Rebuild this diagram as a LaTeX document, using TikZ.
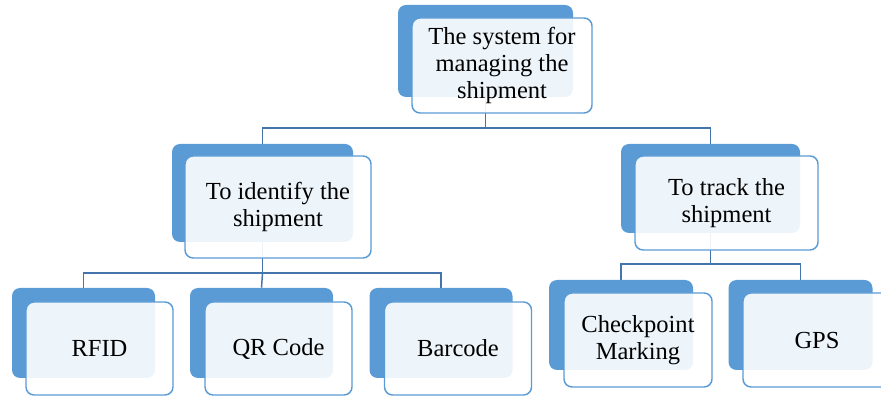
\documentclass[tikz,border=0pt]{standalone}
\usepackage{fontspec}
\setmainfont{Liberation Serif}
\usetikzlibrary{backgrounds}

\definecolor{shadeblue}{RGB}{91,155,213}
\definecolor{linkblue}{RGB}{68,116,172}

\tikzset{
  boxback/.style={draw=none, fill=shadeblue, rounded corners=6pt, inner sep=0pt},
  boxfront/.style={draw=shadeblue, line width=1.1pt, fill=white, fill opacity=0.9, text opacity=1,
    rounded corners=6pt, inner sep=0pt, align=center, font=\fontsize{18.4}{19.9}\selectfont},
  link/.style={draw=linkblue, line width=1.1pt},
}

\begin{document}
\begin{tikzpicture}[x=0.75pt,y=0.75pt,yscale=-1,xscale=1]
\useasboundingbox (0,0) rectangle (881,398);

%top box
\node [boxback, minimum width=131.25pt, minimum height=69pt] (sysB) at (485.5,51) {};
\node [boxfront, minimum width=135pt, minimum height=71.25pt] (sys) at (502,65.5) {The system for\\managing the\\shipment};

%second level
\node [boxback, minimum width=135.75pt, minimum height=73.5pt] (identB) at (262.5,193) {};
\node [boxfront, minimum width=139.5pt, minimum height=76.5pt] (ident) at (278,207) {To identify the\\shipment};

\node [boxback, minimum width=134.25pt, minimum height=66.75pt] (trackB) at (710.5,188.5) {};
\node [boxfront, minimum width=137.25pt, minimum height=70.5pt] (track) at (726.5,203) {To track the\\shipment};

%third level, left
\node [boxback, minimum width=107.25pt, minimum height=67.5pt] (rfidB) at (83.5,333) {};
\node [boxfront, minimum width=110.25pt, minimum height=69.75pt] (rfid) at (99.5,348.5) {RFID};

\node [boxback, minimum width=107.25pt, minimum height=67.5pt] (qrB) at (261.5,333) {};
\node [boxfront, minimum width=110.25pt, minimum height=69.75pt] (qr) at (278.5,348.5) {QR Code};

\node [boxback, minimum width=107.25pt, minimum height=67.5pt] (barB) at (441,333) {};
\node [boxfront, minimum width=110.25pt, minimum height=69.75pt] (bar) at (458,348.5) {Barcode};

%third level, right
\node [boxback, minimum width=108pt, minimum height=67.5pt] (checkB) at (621,325) {};
\node [boxfront, minimum width=111pt, minimum height=70.5pt] (check) at (638,340) {Checkpoint\\Marking};

\node [boxback, minimum width=108pt, minimum height=67.5pt] (gpsB) at (800.5,325) {};
\node [boxfront, minimum width=111pt, minimum height=70.5pt] (gps) at (817,340) {GPS};

%connectors
\coordinate (busA) at (485.5,128);
\coordinate (busB) at (262.5,273);
\coordinate (busC) at (710.5,264);
\begin{pgfonlayer}{background}
\draw [link] (sysB.south) -- (busA) -| (identB.north);
\draw [link] (busA) -| (trackB.north);
\draw [link] (identB.south) -- (busB) -| (rfidB.north);
\draw [link] (busB) -| (barB.north);
\draw [link] (busB) -- (qrB.north);
\draw [link] (trackB.south) -- (busC) -| (checkB.north);
\draw [link] (busC) -| (gpsB.north);
\end{pgfonlayer}

\end{tikzpicture}
\end{document}
